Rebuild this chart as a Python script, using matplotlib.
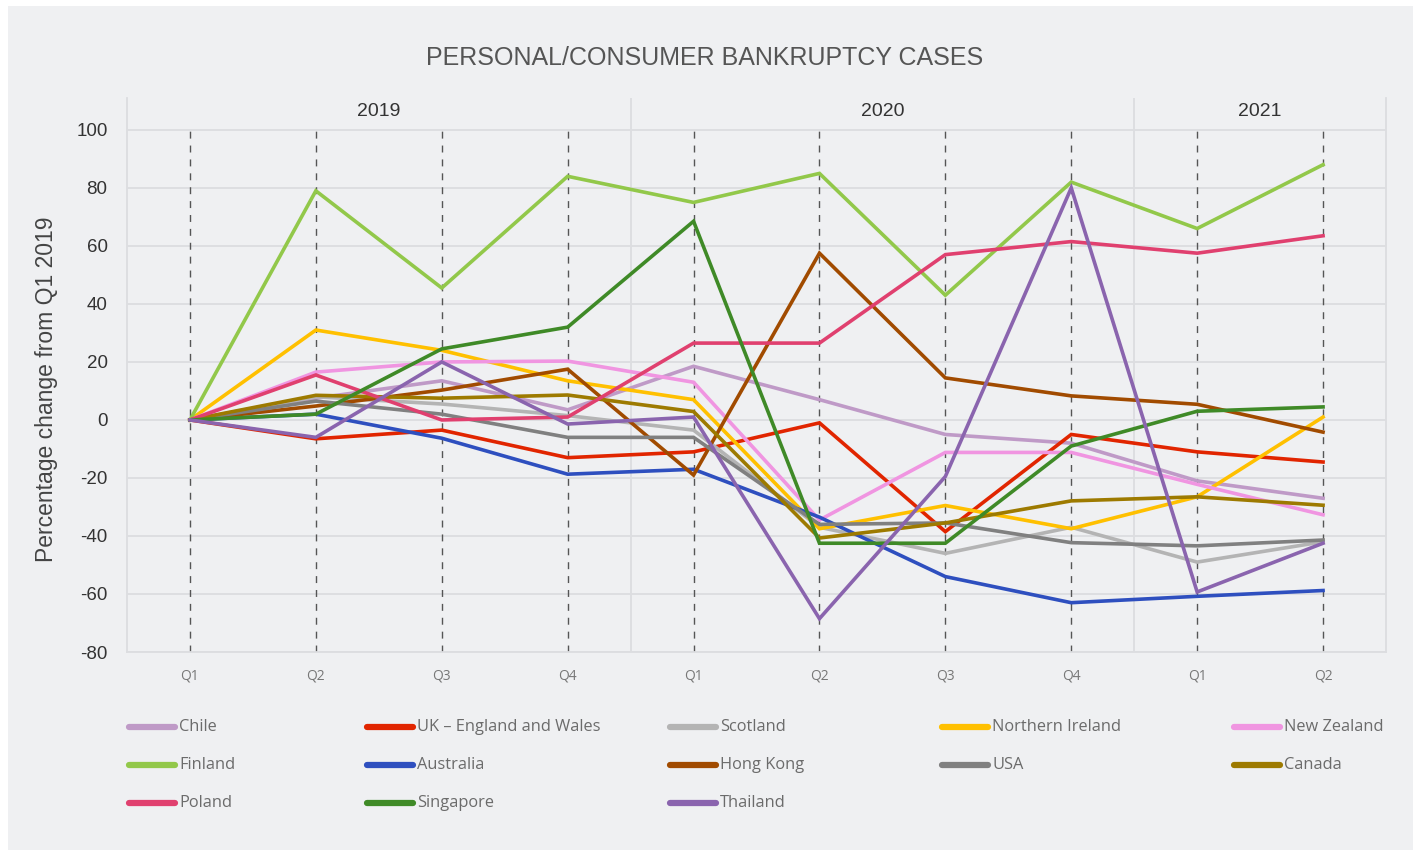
import matplotlib
matplotlib.use("Agg")
import matplotlib.pyplot as plt
from matplotlib.lines import Line2D
from matplotlib.patches import Rectangle

quarters = ["Q1", "Q2", "Q3", "Q4", "Q1", "Q2", "Q3", "Q4", "Q1", "Q2"]
years = ["2019", "2020", "2021"]
year_centers = [1.5, 5.5, 8.5]
year_bounds = [3.5, 7.5]

chile = [0, 7.5, 13.5, 3.5, 18.5, 7, -5, -8, -21, -27]
uk = [0, -6.5, -3.5, -13, -11, -1, -38.5, -5, -11, -14.5]
scotland = [0, 8, 5.5, 1.5, -3.5, -37, -46, -37, -49, -42]
northern_ireland = [0, 31, 24, 13.5, 7, -37.5, -29.5, -37.5, -26.5, 1]
new_zealand = [0, 16.5, 20, 20.3, 13, -34.5, -11.2, -11.2, -22.2, -32.7]
finland = [0, 79, 45.5, 84, 75, 85, 43, 82, 66, 88]
australia = [0, 2, -6.3, -18.7, -17, -33.5, -54, -63, -60.8, -58.8]
hong_kong = [0, 4.8, 10.3, 17.5, -19, 57.5, 14.5, 8.3, 5.4, -4.2]
usa = [0, 6.5, 2, -6, -6, -36, -35.5, -42.3, -43.4, -41.4]
canada = [0, 8.5, 7.5, 8.6, 2.9, -40.7, -35.5, -27.9, -26.5, -29.4]
poland = [0, 15.5, 0, 1, 26.5, 26.5, 57, 61.5, 57.5, 63.5]
singapore = [0, 2, 24.5, 32, 68.5, -42.5, -42.5, -9, 3, 4.5]
thailand = [0, -6, 20, -1.4, 1, -68.5, -19.5, 80, -59.3, -42.5]

series = [
    ("Chile", chile, "#bf9ac7"),
    ("UK \u2013 England and Wales", uk, "#e12500"),
    ("Scotland", scotland, "#b4b4b4"),
    ("Northern Ireland", northern_ireland, "#ffc000"),
    ("New Zealand", new_zealand, "#f095e1"),
    ("Finland", finland, "#92c84a"),
    ("Australia", australia, "#2e4fbf"),
    ("Hong Kong", hong_kong, "#a14b00"),
    ("USA", usa, "#808080"),
    ("Canada", canada, "#9d7a00"),
    ("Poland", poland, "#e0406f"),
    ("Singapore", singapore, "#3f8a27"),
    ("Thailand", thailand, "#8a64ae"),
]

W, H = 1418, 855
fig = plt.figure(figsize=(W / 100, H / 100), dpi=100, facecolor="white")
bg = "#eff0f2"
fig.add_artist(Rectangle((8 / W, 1 - 850 / H), (1413 - 8) / W, (850 - 6) / H,
                         transform=fig.transFigure, facecolor=bg, edgecolor="none", zorder=-10))

ax = fig.add_axes([127 / W, 1 - 652 / H, (1386 - 127) / W, (652 - 98) / H])
ax.set_facecolor(bg)
ax.set_xlim(-0.5, 9.5)
ax.set_ylim(-80, 111)

grid_c = "#dcdde0"
yt = list(range(-80, 101, 20))
for v in yt:
    ax.axhline(v, color=grid_c, lw=1.3, zorder=0)
for b in year_bounds:
    ax.axvline(b, color=grid_c, lw=1.3, zorder=0)
for i in range(len(quarters)):
    ax.plot([i, i], [-80, 100], color="#555555", lw=1.0, ls=(0, (5, 5)), zorder=1)

for s in ["top"]:
    ax.spines[s].set_visible(False)
for s in ["left", "right", "bottom"]:
    ax.spines[s].set_color(grid_c)
    ax.spines[s].set_linewidth(1.3)

ax.set_yticks(yt)
ax.set_yticklabels([str(v) for v in yt], fontsize=13.5, color="#333333", family="Liberation Sans")
ax.tick_params(axis="y", length=0, pad=14)
ax.set_xticks(range(len(quarters)))
ax.set_xticklabels(quarters, fontsize=10, color="#777777", family="Open Sans")
ax.tick_params(axis="x", length=0, pad=12)

for yr, xc in zip(years, year_centers):
    ax.text(xc, 106.3, yr, ha="center", va="center", fontsize=14, color="#333333",
            family="Liberation Sans")

x = list(range(len(quarters)))
for name, vals, col in series:
    ax.plot(x, vals, color=col, lw=2.6, solid_joinstyle="miter", zorder=3)

ax.set_ylabel("Percentage change from Q1 2019", fontsize=16.5, color="#444444",
              family="Liberation Sans")
ax.yaxis.set_label_coords(-0.055, 0.475)

fig.text(705 / W, 1 - 58 / H, "PERSONAL/CONSUMER BANKRUPTCY CASES", ha="center", va="center",
         fontsize=18, color="#555555", family="Liberation Sans")

# legend
col_x = [127, 365, 668, 940, 1232]
row_y = [727, 765, 803]
for i, (name, vals, col) in enumerate(series):
    c, r = i % 5, i // 5
    x0 = col_x[c]
    y0 = row_y[r]
    fig.add_artist(Line2D([(x0 + 2) / W, (x0 + 48) / W], [1 - y0 / H, 1 - y0 / H],
                          transform=fig.transFigure, color=col, lw=4.5,
                          solid_capstyle="round"))
    fig.text((x0 + 52) / W, 1 - y0 / H, name, ha="left", va="center", fontsize=11.8,
             color="#6b6b6b", family="Open Sans")

fig.savefig("out.png", dpi=100, facecolor="white")
